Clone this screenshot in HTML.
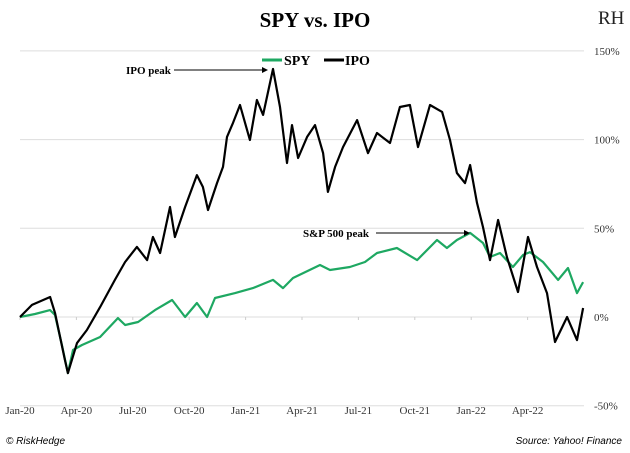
<!DOCTYPE html>
<html><head><meta charset="utf-8"><style>
body{margin:0;background:#fff;width:630px;height:453px;overflow:hidden;font-family:"Liberation Serif",serif}
svg{display:block}
</style></head><body>
<svg width="630" height="453">
<text x="315" y="27" text-anchor="middle" font-size="21" font-weight="bold" font-family="Liberation Serif">SPY vs. IPO</text>
<text x="598" y="24" font-size="19" font-family="Liberation Serif" fill="#222">RH</text>
<g id="grid"></g>
<g id="ylabels"></g>
<g id="xlabels"></g>
<g id="series"></g>
<g>
<line x1="262" y1="60" x2="282" y2="60" stroke="#1ea862" stroke-width="3"/>
<text x="284" y="65" font-size="14" font-weight="bold">SPY</text>
<line x1="324" y1="60" x2="344" y2="60" stroke="#000" stroke-width="3"/>
<text x="345" y="65" font-size="14" font-weight="bold">IPO</text>
</g>
<g>
<text x="126" y="74" font-size="11" font-weight="bold">IPO peak</text>
<line x1="174" y1="70" x2="264" y2="70" stroke="#000" stroke-width="1"/>
<polygon points="268,70 262,67 262,73" fill="#000"/>
</g>
<g>
<text x="303" y="237" font-size="11" font-weight="bold">S&amp;P 500 peak</text>
<line x1="376" y1="233" x2="466" y2="233" stroke="#000" stroke-width="1"/>
<polygon points="470,233 464,230 464,236" fill="#000"/>
</g>
<text x="6" y="444" font-size="10" font-style="italic" font-family="Liberation Sans">© RiskHedge</text>
<text x="622" y="444" text-anchor="end" font-size="10" font-style="italic" font-family="Liberation Sans">Source: Yahoo! Finance</text>
</svg>
<script>
const yTicks=[150,100,50,0,-50];
const xTickLabels=["Jan-20","Apr-20","Jul-20","Oct-20","Jan-21","Apr-21","Jul-21","Oct-21","Jan-22","Apr-22"];
const xTickMonths=[0,3,6,9,12,15,18,21,24,27];
const ipoMonths=[0,0.64,1.6,1.86,2.39,2.55,3.03,3.56,4.26,5.05,5.59,6.22,6.76,7.07,7.45,7.98,8.24,8.78,9.41,9.73,10,10.48,10.8,11.01,11.33,11.7,12.23,12.6,12.93,13.46,13.83,14.2,14.47,14.79,15.27,15.69,16.12,16.38,16.76,17.18,17.93,18.51,18.99,19.68,20.21,20.74,21.17,21.81,22.45,22.87,23.24,23.67,23.94,24.31,24.63,25,25.43,25.9,26.49,27.02,27.5,28.03,28.46,29.1,29.63,29.95];
const ipoValues=[0,6.8,11.3,2.3,-24.2,-31.6,-14.7,-7.3,5.6,20.9,31,39.5,32.1,45.1,36.1,62,45.1,62,80,73.3,60.3,75.5,84.6,101.5,109.4,119.5,99.8,122.3,113.9,139.8,118.4,86.8,108.2,89.6,101.5,108.2,92.4,70.5,84.6,95.8,111,92.4,103.7,98.1,118.4,119.5,95.8,119.5,115.6,99.8,81.2,75.5,85.7,64.3,50.7,32.1,54.7,33.8,14.1,45.1,28.2,13.5,-14.1,0,-13,5.1];
const spyMonths=[0,0.8,1.6,1.86,2.23,2.55,2.82,3.3,4.26,5.21,5.59,6.28,7.18,8.09,8.78,9.41,9.95,10.37,11.44,12.39,13.46,13.99,14.52,15.96,16.49,17.55,18.35,18.99,20.05,21.12,22.18,22.71,23.24,23.94,24.63,25,25.53,26.22,26.76,27.13,27.82,28.62,29.15,29.63,29.95];
const spyValues=[0,1.7,3.9,1.1,-15.8,-31.6,-18.6,-15.8,-11.3,-0.6,-4.5,-2.8,3.9,9.6,0,7.9,0,10.7,13.5,16.3,20.9,16.3,22,29.3,26.5,28.2,31,36.1,38.9,32.1,43.4,38.9,43.4,47.4,41.7,33.8,36.1,28.2,35,36.6,31,20.9,27.6,13.5,19.7];
const NS="http://www.w3.org/2000/svg";
const X=m=>20+m*18.8;
const Y=v=>317-v*1.774;
function mk(tag,attrs,parent){const e=document.createElementNS(NS,tag);for(const k in attrs)e.setAttribute(k,attrs[k]);document.getElementById(parent).appendChild(e);return e;}
yTicks.forEach(t=>{
  const g=mk("line",{x1:20,x2:584,y1:Y(t),y2:Y(t),stroke:"#ddd","stroke-width":1},"grid");
  
  
  const l=mk("text",{x:594,y:Y(t)+4,"font-size":11,fill:"#333"},"ylabels");
  l.textContent=t+"%";
  
  
});
xTickLabels.forEach((s,i)=>{
  const l=mk("text",{x:X(xTickMonths[i]),y:414,"font-size":11,"text-anchor":"middle",fill:"#333"},"xlabels");
  l.textContent=s;
  
  
  const t=mk("line",{x1:X(xTickMonths[i]),x2:X(xTickMonths[i]),y1:317,y2:320,stroke:"#ccc"},"grid");
  
  
});
function line(ms,vs,col,name){
  const d=ms.map((m,i)=>(i?"L":"M")+X(m).toFixed(1)+","+Y(vs[i]).toFixed(1)).join("");
  const p=mk("path",{d:d,fill:"none",stroke:col,"stroke-width":2.2,"stroke-linejoin":"round"},"series");
  
  
}
line(spyMonths,spyValues,"#1ea862","spy-line");
line(ipoMonths,ipoValues,"#000","ipo-line");
</script>
</body></html>
